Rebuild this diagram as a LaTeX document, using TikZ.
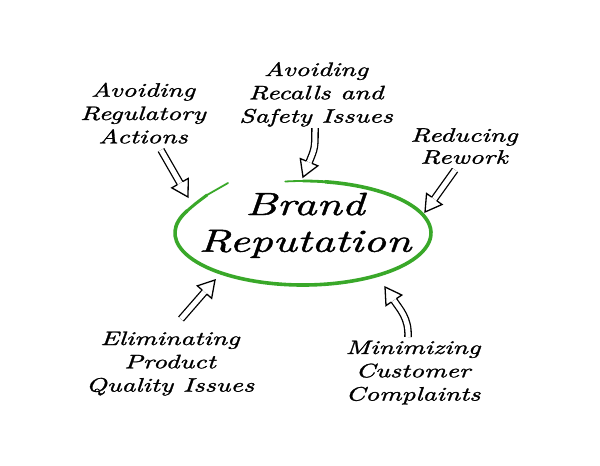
\documentclass[tikz,border=0pt]{standalone}
\usepackage{fontspec}
\usetikzlibrary{calc}
\newfontfamily\hand{lmroman10-italic.otf}[FakeStretch=1.4,FakeBold=1.3]
\definecolor{ringgreen}{RGB}{57,168,41}
\newcommand\hollowhead[2]{%
  \draw[headline] ($(#1)!3.15pt!90:(#2)$) -- ($(#1)!9.5pt!90:(#2)$) -- (#2)
    -- ($(#1)!9.5pt!-90:(#2)$) -- ($(#1)!3.15pt!-90:(#2)$);}
\begin{document}
\begin{tikzpicture}[x=1pt,y=-1pt,
  shaft/.style={line width=1.3pt, double distance=5pt, double=white, line cap=butt},
  headline/.style={line width=1.3pt, line join=miter},
  small/.style={inner sep=0pt, anchor=base, font=\hand\fontsize{19.5}{23.3}\selectfont},
  big/.style={inner sep=0pt, anchor=base, font=\hand\fontsize{32}{36.7}\selectfont},
  ring/.style={draw=ringgreen, line width=3.6pt, line cap=round, line join=round}]
\useasboundingbox[fill=white] (0,0) rectangle (600,466);

% ring
\coordinate (rc) at (303,233);
\draw[ring] ([shift={(155:128pt and 52pt)}]rc) arc[start angle=155, end angle=440, x radius=128pt, y radius=52pt];
\draw[ring, line width=2.8pt] ([shift={(440:128pt and 52pt)}]rc) arc[start angle=440, end angle=450, x radius=128pt, y radius=52pt];
\draw[ring, line width=1.8pt] ([shift={(450:128pt and 52pt)}]rc) arc[start angle=450, end angle=458, x radius=128pt, y radius=52pt];
\draw[ring, line width=3pt] ([shift={(155:128pt and 52pt)}]rc) .. controls (195,204) .. (207,195);
\draw[ring, line width=1.8pt] (207,195) .. controls (217,188.5) .. (228,183);

% texts
\node[big] (brand) at (305,215) {\begin{tabular}[t]{@{}c@{}}Brand\\Reputation\end{tabular}};
\node[small] (reg) at (143,96.7) {\begin{tabular}[t]{@{}c@{}}Avoiding\\Regulatory\\Actions\end{tabular}};
\node[small] (rec) at (316,76) {\begin{tabular}[t]{@{}c@{}}Avoiding\\Recalls and\\Safety Issues\end{tabular}};
\node[small,font=\hand\fontsize{19.5}{22}\selectfont] (rew) at (464,141.7) {\begin{tabular}[t]{@{}c@{}}Reducing\\Rework\end{tabular}};
\node[small] (eli) at (170,345) {\begin{tabular}[t]{@{}c@{}}Eliminating\\Product\\Quality Issues\end{tabular}};
\node[small] (min) at (413,354) {\begin{tabular}[t]{@{}c@{}}Minimizing\\Customer\\Complaints\end{tabular}};

% arrow end points
\coordinate (t1) at (161,150); \coordinate (p1) at (188,197);
\coordinate (t2) at (315,128); \coordinate (p2) at (303,177);
\coordinate (t3) at (455,170); \coordinate (p3) at (425,212);
\coordinate (t4) at (181,319); \coordinate (p4) at (215,280);
\coordinate (t5) at (408,337); \coordinate (p5) at (385,287);
\coordinate (b1) at ($(p1)!16pt!(t1)$);
\coordinate (b2) at (309.1,162.2);
\coordinate (b3) at ($(p3)!16pt!(t3)$);
\coordinate (b4) at ($(p4)!16pt!(t4)$);
\coordinate (b5) at (393.9,300.3);

% arrows
\draw[shaft] (t1) -- (b1); \hollowhead{b1}{p1}
\draw[shaft] (t2) .. controls (315,148) .. (b2); \hollowhead{b2}{p2}
\draw[shaft] (t3) -- (b3); \hollowhead{b3}{p3}
\draw[shaft] (t4) -- (b4); \hollowhead{b4}{p4}
\draw[shaft] (t5) .. controls (409,318) and (399.5,309) .. (b5); \hollowhead{b5}{p5}
\end{tikzpicture}
\end{document}
